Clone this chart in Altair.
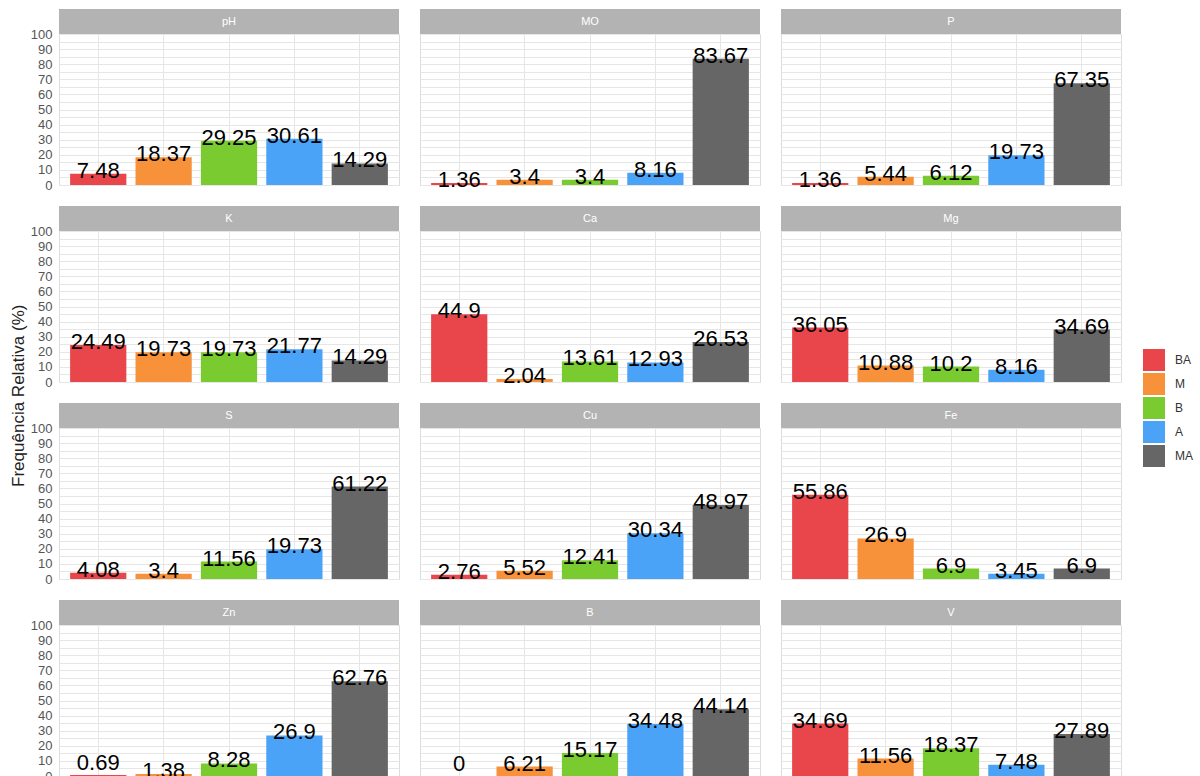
import altair as alt
import pandas as pd

# Classes de interpretação e atributos do solo
niveis = ["BA", "M", "B", "A", "MA"]
cores = ["#E8464B", "#F7923A", "#7ACB30", "#4BA3F7", "#666666"]
atributos = ["pH", "MO", "P", "K", "Ca", "Mg", "S", "Cu", "Fe", "Zn", "B", "V"]

# Frequência relativa (%) de cada classe, por atributo
freq_ph = [7.48, 18.37, 29.25, 30.61, 14.29]
freq_mo = [1.36, 3.4, 3.4, 8.16, 83.67]
freq_p = [1.36, 5.44, 6.12, 19.73, 67.35]
freq_k = [24.49, 19.73, 19.73, 21.77, 14.29]
freq_ca = [44.9, 2.04, 13.61, 12.93, 26.53]
freq_mg = [36.05, 10.88, 10.2, 8.16, 34.69]
freq_s = [4.08, 3.4, 11.56, 19.73, 61.22]
freq_cu = [2.76, 5.52, 12.41, 30.34, 48.97]
freq_fe = [55.86, 26.9, 6.9, 3.45, 6.9]
freq_zn = [0.69, 1.38, 8.28, 26.9, 62.76]
freq_b = [0, 6.21, 15.17, 34.48, 44.14]
freq_v = [34.69, 11.56, 18.37, 7.48, 27.89]

series = [freq_ph, freq_mo, freq_p, freq_k, freq_ca, freq_mg,
          freq_s, freq_cu, freq_fe, freq_zn, freq_b, freq_v]

rows = []
for atr, vals in zip(atributos, series):
    for nv, v in zip(niveis, vals):
        rows.append({"Atributo": atr, "Nivel": nv, "Freq": v, "Rotulo": f"{v:g}"})
df = pd.DataFrame(rows)

W, H = 340, 151
FONT = "Liberation Sans"

x_enc = alt.X(
    "Nivel:N", sort=niveis,
    scale=alt.Scale(paddingInner=0.14, paddingOuter=0.17),
    axis=alt.Axis(labels=False, ticks=False, domain=False, title=None,
                  grid=True, bandPosition=0.5, gridColor="#e6e6e6"),
)
y_enc = alt.Y(
    "Freq:Q",
    scale=alt.Scale(domain=[0, 100], nice=False, zero=True),
    axis=alt.Axis(values=list(range(0, 101, 5)),
                  labelExpr="datum.value % 10 == 0 ? datum.label : ''",
                  title=None, ticks=False, domain=False, grid=True,
                  gridColor="#e6e6e6", labelPadding=7,
                  labelFontSize=13, labelColor="#555555", labelFont=FONT),
)

base = alt.Chart(df)

# faixa cinza com o nome do atributo acima de cada painel
strip = base.transform_filter(alt.datum.Nivel == "BA").mark_rect(
    color="#b3b3b3"
).encode(x=alt.value(0), x2=alt.value(W), y=alt.value(-25), y2=alt.value(0))

strip_text = base.transform_filter(alt.datum.Nivel == "BA").mark_text(
    color="white", fontSize=11, font=FONT, baseline="middle"
).encode(x=alt.value(W / 2), y=alt.value(-12.5), text="Atributo:N")

bars = base.mark_bar().encode(
    x=x_enc,
    y=y_enc,
    color=alt.Color(
        "Nivel:N", sort=niveis,
        scale=alt.Scale(domain=niveis, range=cores),
        legend=alt.Legend(title=None, orient="none", legendX=1084, legendY=315,
                          symbolType="square", symbolSize=484,
                          symbolStrokeWidth=0, labelFontSize=12,
                          labelFont=FONT, labelColor="#333333",
                          rowPadding=2, labelOffset=10),
    ),
)

# rótulos de valor; os muito próximos de zero sobem um pouco para ficarem legíveis
labels = base.transform_filter(alt.datum.Freq >= 1).mark_text(
    fontSize=22, font=FONT, baseline="alphabetic", dy=4, color="black"
).encode(x=x_enc, y=y_enc, text="Rotulo:N")

labels_low = base.transform_filter(alt.datum.Freq < 1).mark_text(
    fontSize=22, font=FONT, baseline="alphabetic", dy=-5, color="black"
).encode(x=x_enc, y=y_enc, text="Rotulo:N")

panel = alt.layer(strip, strip_text, bars, labels, labels_low).properties(
    width=W, height=H
)

chart = panel.facet(
    facet=alt.Facet("Atributo:N", sort=atributos,
                    header=alt.Header(labels=False, title=None, labelPadding=0,
                                      labelFontSize=0, labelExpr="''")),
    columns=3,
    spacing={"row": 46, "column": 21},
    bounds="flush",
).properties(
    title=alt.TitleParams("Frequência Relativa (%)", orient="left",
                          anchor="middle", fontSize=17, fontWeight="normal",
                          font=FONT, color="#222222", offset=2),
    padding={"left": 10, "top": 8, "right": 5, "bottom": 5},
).configure_view(
    stroke="#cccccc", strokeWidth=1
).configure_headerFacet(
    labels=False, title=None, labelPadding=0
).configure(background="white")

chart.save("out.html", embed_options={"renderer": "svg", "actions": False})
